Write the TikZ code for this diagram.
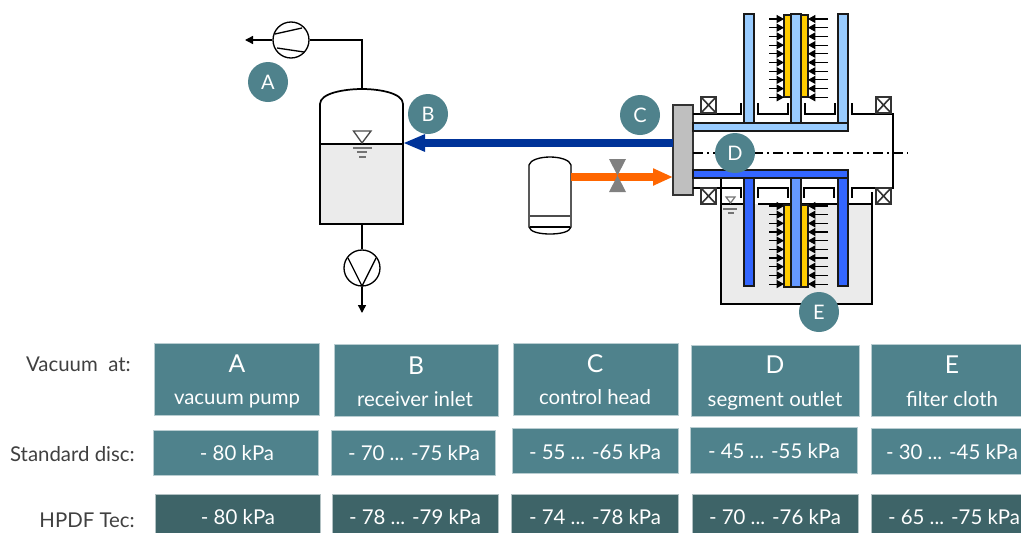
\documentclass[tikz,border=0pt]{standalone}
\usepackage{fontspec}
\setmainfont{Lato}
\usetikzlibrary{arrows.meta}
\definecolor{teal1}{HTML}{4F828C}
\definecolor{teal2}{HTML}{3E6468}
\definecolor{lblue}{HTML}{99CCFF}
\definecolor{mblue}{HTML}{3366FF}
\definecolor{cblue}{HTML}{6699FF}
\definecolor{dblue}{HTML}{003399}
\definecolor{orng}{HTML}{FF6600}
\definecolor{yell}{HTML}{FFCC00}
\definecolor{liq}{HTML}{EBEBEB}
\definecolor{txt}{HTML}{404040}
\tikzset{
  x=0.75pt,y=-0.75pt,
  lw/.style={line width=1.1pt,black},
  badge/.style={circle,fill=teal1,text=white,minimum size=30pt,inner sep=0pt,font=\fontsize{15}{15}\selectfont},
  cell/.style={fill=teal1,draw=teal1!40!white,line width=0.4pt},
  cellb/.style={fill=teal2,draw=teal2!40!white,line width=0.4pt},
  headtxt/.style={text=white,font=\fontsize{18.5}{18.5}\selectfont,inner sep=0pt,yshift=-0.75pt},
  subtxt/.style={text=white,font=\fontsize{15.3}{15.3}\selectfont,inner sep=0pt,text height=10pt,text depth=3pt,yshift=-1.5pt},
  rowlab/.style={text=txt,font=\fontsize{15.3}{15.3}\selectfont,inner sep=0pt,anchor=east,text height=10pt,text depth=3pt,yshift=-1.5pt},
  pipe/.style={line width=1.3pt,draw=black},
  seg/.style={line width=1.3pt,draw=black!90},
  flow/.style={line width=0.8pt,-{Triangle[length=5.5pt,width=6pt]}},
}
\newcommand{\sealbox}[4]{\draw[line width=1.2pt,draw=black!80,fill=white] (#1,#2) rectangle (#3,#4) (#1,#2) -- (#3,#4) (#1,#4) -- (#3,#2);}
\begin{document}
\begin{tikzpicture}
\useasboundingbox (0,0) rectangle (1021,532);
% receiver
\fill[liq] (320,144) rectangle (403,224);
\draw[line width=1.3pt] (320,224) -- (320,104) .. controls (320,93) and (345,89) .. (362,89) .. controls (379,89) and (403,93) .. (403,104) -- (403,224) -- cycle;
\coordinate (rectop) at (362,89);
\coordinate (recbot) at (362,224);
\coordinate (recin) at (403,143);
\draw[line width=0.8pt] (320,144) -- (403,144);
\draw[line width=1pt,draw=black!70] (353.5,131) -- (371,131) -- (362,143) -- cycle;
\draw[line width=0.8pt,draw=black!55] (353,148) -- (372,148) (357,152) -- (367,152) (359,157) -- (366,157);
% vacuum pump
\node[circle,draw,line width=1pt,minimum size=27pt,inner sep=0pt,fill=white] (vp) at (291,40) {};
\draw[line width=1pt] (275,34) -- (302,28) (277,48) -- (304,52);
\coordinate (vpout) at (245,40);
\draw[lw] (rectop) |- (vp.east);
\draw[lw,-{Triangle[length=6pt,width=6pt]}] (vp.west) -- (vpout);
% liquid pump
\node[circle,draw,line width=1pt,minimum size=27pt,inner sep=0pt,fill=white] (lp) at (362,268) {};
\draw[line width=1pt] (348,258) -- (362,286) -- (376,258);
\coordinate (lpout) at (362,313);
\draw[lw] (recbot) -- (lp.north);
\draw[lw,-{Triangle[length=6pt,width=6pt]}] (lp.south) -- (lpout);
% small tank
\draw[line width=1pt,fill=white] (529,165) .. controls (530,160) and (540,157) .. (550,157) .. controls (560,157) and (570,160) .. (571,165) -- (571,227) .. controls (570,232) and (560,234) .. (550,234) .. controls (540,234) and (530,232) .. (529,227) -- cycle;
\draw[line width=1.1pt,draw=black!70] (530,216) -- (570,216);
\draw[line width=1pt] (530,227) -- (570,227);
\coordinate (tankout) at (571,177);
% control head
\node[draw=black!80,fill=black!25,line width=1.1pt,minimum width=15pt,minimum height=67.5pt,inner sep=0pt] (head) at (683,150) {};
\coordinate (headin) at (673,177);
\coordinate (headout) at (673,143);
% flows
\draw[dblue,line width=5.4pt,-{Triangle[length=16.5pt,width=12pt]}] (headout) -- (recin);
\draw[orng,line width=5.6pt,-{Triangle[length=15pt,width=12pt]}] (tankout) -- (headin);
\fill[black!50] (609,159) -- (626,159) -- (609,192) -- (626,192) -- cycle;
% lower tank
\fill[liq] (721,204) rectangle (872,304);
\draw[line width=1.3pt] (721,178) -- (721,304) -- (872,304) -- (872,192);
\draw[line width=1.1pt] (721,204) -- (744,204) (848,204) -- (872,204) (758,204) -- (838,204);
\draw[line width=0.9pt,draw=black!55] (726,197) -- (735,197) -- (730.5,203) -- cycle;
\draw[line width=0.8pt,draw=black!55] (723,209) -- (737,209) (728,213) -- (734,213);
% housing upper
\draw[pipe] (693,114) -- (741,114) -- (741,103);
\draw[pipe] (758,103) -- (758,114) -- (788,114) -- (788,103);
\draw[pipe] (805,103) -- (805,114) -- (835,114) -- (835,103);
\draw[pipe] (852,103) -- (852,114) -- (893,114) -- (893,188) -- (852,188) -- (852,198);
% housing lower
\draw[pipe] (693,188) -- (741,188) -- (741,198);
\draw[pipe] (758,198) -- (758,188) -- (788,188) -- (788,198);
\draw[pipe] (804,198) -- (804,188) -- (834,188) -- (834,198);
\sealbox{701}{97}{716}{113}
\sealbox{876}{97}{891}{113}
\sealbox{701}{188}{716}{204}
\sealbox{876}{188}{891}{204}
% centre line
\draw[line width=1pt,dash pattern=on 7.5pt off 3pt on 1.5pt off 3pt] (693,153) -- (908,153);
% upper segments
\draw[seg,fill=yell] (784,15) rectangle (808,97);
\draw[seg,fill=lblue] (744,14) rectangle (754,123);
\draw[seg,fill=lblue] (791,14) rectangle (801,123);
\draw[seg,fill=lblue] (838,14) rectangle (848,123);
\draw[seg,fill=lblue] (693,123) rectangle (848,131);
% lower segments
\draw[seg,fill=yell] (784,205) rectangle (808,287);
\draw[seg,fill=cblue] (791,178) rectangle (801,287);
\draw[seg,fill=mblue] (744,178) rectangle (754,286);
\draw[seg,fill=mblue] (838,178) rectangle (848,286);
\draw[seg,fill=mblue] (693,170) rectangle (848,178);
% small flow arrows
\foreach \i in {0,...,9}{
  \draw[flow] (769,19+\i*8.7) -- (784,19+\i*8.7);
  \draw[flow] (828,19+\i*8.7) -- (808,19+\i*8.7);
  \draw[flow] (769,206+\i*8.67) -- (784,206+\i*8.67);
  \draw[flow] (828,206+\i*8.67) -- (808,206+\i*8.67);
}
% badges
\node[badge] (ba) at (268,82) {A};
\node[badge] (bb) at (428,114) {B};
\node[badge] (bc) at (640,115) {C};
\node[badge] (bd) at (735,153) {D};
\node[badge] (be) at (819,312) {E};
% table row 1
\draw[cell] (154,343) rectangle (319,415);
\draw[cell] (334,344) rectangle (498,416);
\draw[cell] (513,343) rectangle (678,415);
\draw[cell] (691,345) rectangle (859,416);
\draw[cell] (871,344) rectangle (1022,416);
\node[headtxt] (ca) at (237,363) {A};
\node[subtxt] (sa) at (237,398) {vacuum pump};
\node[headtxt] (cb) at (416,365) {B};
\node[subtxt] (sb) at (415,400) {receiver inlet};
\node[headtxt] (cc) at (595,363) {C};
\node[subtxt] (sc) at (595,398) {control head};
\node[headtxt] (cd) at (775,364) {D};
\node[subtxt] (sd) at (775,400) {segment outlet};
\node[headtxt] (ce) at (952,364) {E};
\node[subtxt] (se) at (952,400) {filter cloth};
% row 2
\draw[cell] (153,430) rectangle (318,475);
\draw[cell] (331,430) rectangle (495,475);
\draw[cell] (512,428) rectangle (678,473);
\draw[cell] (690,427) rectangle (857,473);
\draw[cell] (871,428) rectangle (1022,474);
\node[subtxt] (ra) at (237,454) {- 80 kPa};
\node[subtxt] (rb) at (414,454) {- 70 ... -75 kPa};
\node[subtxt] (rc) at (595,453) {- 55 ... -65 kPa};
\node[subtxt] (rd) at (774,452) {- 45 ... -55 kPa};
\node[subtxt] (re) at (952,453) {- 30 ... -45 kPa};
% row 3
\draw[cellb] (155,494) rectangle (320,534);
\draw[cellb] (332,494) rectangle (498,534);
\draw[cellb] (511,494) rectangle (678,534);
\draw[cellb] (692,494) rectangle (858,534);
\draw[cellb] (871,494) rectangle (1022,534);
\node[subtxt] (ta) at (238,518) {- 80 kPa};
\node[subtxt] (tb) at (415,518) {- 78 ... -79 kPa};
\node[subtxt] (tc) at (595,518) {- 74 ... -78 kPa};
\node[subtxt] (td) at (775,518) {- 70 ... -76 kPa};
\node[subtxt] (te) at (954,518) {- 65 ... -75 kPa};
% row labels
\node[rowlab] (l1) at (131,365) {Vacuum\ \ at:};
\node[rowlab] (l2) at (135,455) {Standard disc:};
\node[rowlab] (l3) at (135,521) {HPDF Tec:};
\end{tikzpicture}
\end{document}
